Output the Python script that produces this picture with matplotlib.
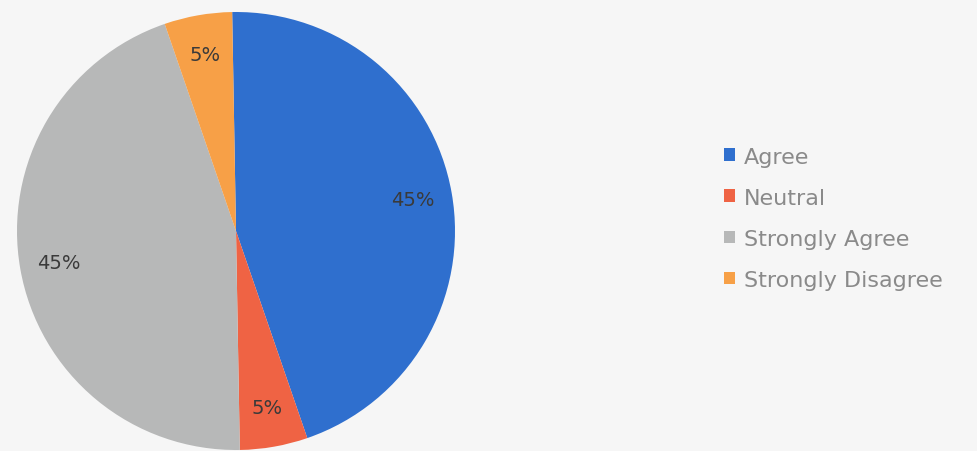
import matplotlib.pyplot as plt

# survey answers
labels = ['Agree', 'Neutral', 'Strongly Agree', 'Strongly Disagree']
values = [45, 5, 45, 5]
colors = ['#2f6fce', '#ef6344', '#b7b8b8', '#f7a047']

fig = plt.figure(figsize=(9.78, 4.52), dpi=100, facecolor='#f6f6f6')
ax = fig.add_axes([17 / 978, 1 / 452, 438 / 978, 438 / 452])

wedges, texts, autotexts = ax.pie(
    values, colors=colors, startangle=91, counterclock=False,
    autopct='%d%%', pctdistance=0.82,
    textprops={'fontsize': 14, 'color': '#3a3a3a'},
)
ax.set_xlim(-1, 1)
ax.set_ylim(-1, 1)
ax.set_aspect('equal')

leg = fig.legend(wedges, labels, loc='center left', bbox_to_anchor=(0.72, 0.515),
                 frameon=False, fontsize=16, labelcolor='#8a8a8a',
                 handlelength=0.5, handleheight=0.5, handletextpad=0.4,
                 labelspacing=0.95)

fig.savefig('out.png', dpi=100, facecolor=fig.get_facecolor())
